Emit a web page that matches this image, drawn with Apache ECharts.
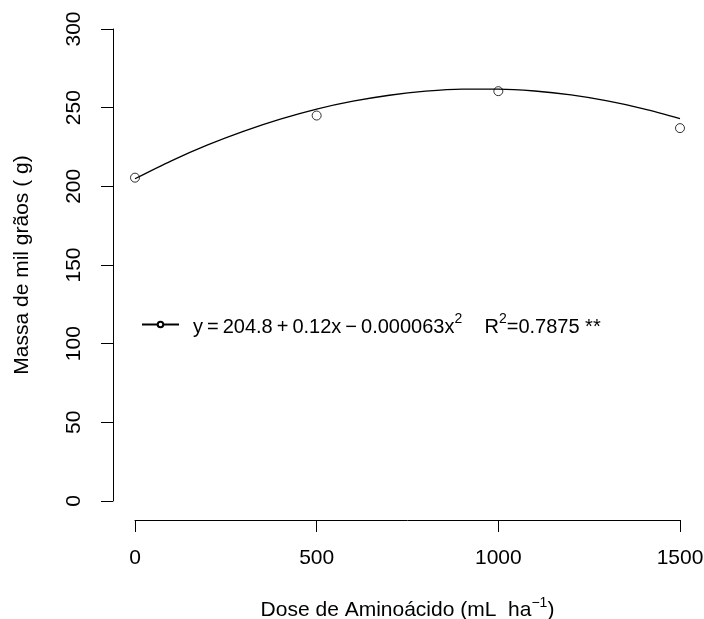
<!DOCTYPE html>
<html>
<head>
<meta charset="utf-8">
<script src="https://cdn.jsdelivr.net/npm/echarts@6/dist/echarts.min.js"></script>
<style>
  html, body { margin: 0; padding: 0; background: #fff; }
  #main { width: 704px; height: 619px; }
</style>
</head>
<body>
<div id="main"></div>
<script>
// dados observados
var doses = [0, 500, 1000, 1500];
var massa = [205.5, 245, 260.5, 237];

// curva ajustada
var curvaX = [0, 100, 200, 300, 400, 500, 600, 700, 800, 900, 1000, 1100, 1200, 1300, 1400, 1500];
var curvaY = [204.8, 216.2, 226.3, 235.1, 242.7, 249.1, 254.1, 257.9, 260.5, 261.8, 261.8, 260.6, 258.1, 254.3, 249.3, 243.1];

var fonte = '"Liberation Sans", Arial, sans-serif';
var nomeCurva = 'ajuste';

// texto com expoente (rich text)
function richSup(size) {
    return {
        n: { fontSize: size, fontFamily: fonte, color: '#000', verticalAlign: 'bottom', lineHeight: size },
        sup: { fontSize: 14, fontFamily: fonte, color: '#000', verticalAlign: 'top', lineHeight: 25 }
    };
}

var chart = echarts.init(document.getElementById('main'));

var option = {
    backgroundColor: '#fff',
    animation: false,
    textStyle: { fontFamily: fonte, color: '#000' },
    grid: { left: 135, right: 24, top: 29, bottom: 118, containLabel: false, outerBoundsMode: 'none' },
    legend: {
        data: [nomeCurva],
        left: 136,
        top: 307,
        itemWidth: 37,
        itemHeight: 7,
        formatter: function () {
            return '{n|y\u2009=\u2009204.8\u2009+\u20090.12x\u2009\u2212\u20090.000063x}{sup|2}{n|    R}{sup|2}{n|=0.7875 **}';
        },
        textStyle: {
            fontFamily: fonte,
            color: '#000',
            fontSize: 20,
            rich: richSup(20),
            padding: [0, 0, 0, 9]
        }
    },
    xAxis: {
        type: 'value',
        min: 0,
        max: 1500,
        interval: 500,
        offset: 19,
        name: '{n|Dose de Amino\u00e1cido (mL  ha}{sup|\u22121}{n|)}',
        nameLocation: 'middle',
        nameGap: 76,
        nameTextStyle: {
            fontFamily: fonte,
            color: '#000',
            fontSize: 21,
            rich: richSup(21)
        },
        splitLine: { show: false },
        axisLine: { show: true, onZero: false, lineStyle: { color: '#000', width: 1 } },
        axisTick: { show: true, length: 12, lineStyle: { color: '#000', width: 1 } },
        axisLabel: {
            fontFamily: fonte, color: '#000', fontSize: 21, margin: 28,
            formatter: function (v) { return String(v); }
        }
    },
    yAxis: {
        type: 'value',
        min: 0,
        max: 300,
        interval: 50,
        offset: 22,
        name: 'Massa de mil gr\u00e3os ( g)',
        nameLocation: 'middle',
        nameGap: 80,
        nameTextStyle: { fontFamily: fonte, color: '#000', fontSize: 21 },
        splitLine: { show: false },
        axisLine: { show: true, onZero: false, lineStyle: { color: '#000', width: 1 } },
        axisTick: { show: true, length: 12, lineStyle: { color: '#000', width: 1 } },
        axisLabel: {
            fontFamily: fonte, color: '#000', fontSize: 21, margin: 28, rotate: 90,
            formatter: function (v) { return String(v); }
        }
    },
    series: [
        {
            name: nomeCurva,
            type: 'line',
            smooth: 0.3,
            showSymbol: false,
            symbol: 'circle',
            symbolSize: 7,
            data: curvaX.map(function (x, i) { return [x, curvaY[i]]; }),
            lineStyle: { color: '#000', width: 1.3 },
            itemStyle: { color: '#fff', borderColor: '#000', borderWidth: 1 }
        },
        {
            name: 'observado',
            type: 'scatter',
            symbol: 'circle',
            symbolSize: 9,
            data: doses.map(function (x, i) { return [x, massa[i]]; }),
            itemStyle: { color: '#fff', borderColor: '#000', borderWidth: 1 }
        }
    ]
};

chart.setOption(option);
</script>
</body>
</html>
